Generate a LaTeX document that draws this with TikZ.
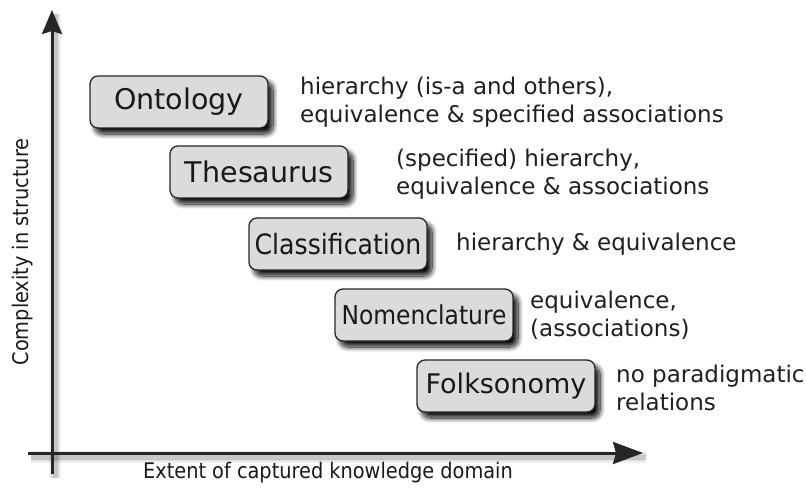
\documentclass[tikz,border=0pt]{standalone}
\usepackage{fontspec}
\setmainfont{DejaVu Sans}
\newfontfamily\condfont{DejaVu Sans Condensed}
\usetikzlibrary{arrows.meta,shadows.blur}

\tikzset{
  concept/.style={draw=black!85, line width=1.3pt, fill=black!14,
    rounded corners=8pt, minimum width=178pt, minimum height=52pt,
    inner sep=0pt, text=black!90,
    blur shadow={shadow xshift=5pt, shadow yshift=-6pt,
      shadow blur radius=5pt, shadow blur steps=12, shadow opacity=95}},
  desc/.style={anchor=west, align=left, inner sep=0pt, text=black!88,
    font=\fontsize{23}{28}\selectfont},
  axis/.style={line width=3pt, black!85},
  axislabel/.style={font=\condfont\fontsize{21.5}{24}\selectfont, text=black!90, inner sep=0pt},
}

\begin{document}
\begin{tikzpicture}[x=1pt, y=-1pt]
  \useasboundingbox (0,0) rectangle (806,489);

  % axis end points
  \coordinate (yb) at (52,474);
  \coordinate (yt) at (52,10);
  \coordinate (xl) at (28,453);
  \coordinate (xr) at (643,453);

  % soft halo under the axes
  \foreach \w/\o in {12/0.06, 8/0.08, 5/0.10}{
    \draw[line width=\w pt, black, opacity=\o] ([shift={(3,4)}]yb) -- ([shift={(3,4)}]yt);
    \draw[line width=\w pt, black, opacity=\o] ([shift={(3,4)}]xl) -- ([shift={(3,4)}]xr);
  }

  % axes
  \draw[axis, -{Stealth[length=24pt, width=20pt, inset=3pt]}] (yb) -- (yt);
  \draw[axis, -{Stealth[length=30pt, width=22pt, inset=3pt]}] (xl) -- (xr);

  \node[axislabel, rotate=90] (ylab) at (23,252) {Complexity in structure};
  \node[axislabel] (xlab) at (328,473) {Extent of captured knowledge domain};

  % concept boxes
  \node[concept, font=\fontsize{28.5}{30}\selectfont] (onto) at (179,102) {Ontology};
  \node[concept, font=\fontsize{28.5}{30}\selectfont] (thes) at (259,172) {Thesaurus};
  \node[concept, font=\condfont\fontsize{28}{30}\selectfont] (clas) at (338,244) {Classification};
  \node[concept, font=\condfont\fontsize{26}{30}\selectfont] (nome) at (424,315) {Nomenclature};
  \node[concept, font=\fontsize{27}{30}\selectfont] (folk) at (506,386) {Folksonomy};

  % relation descriptions
  \node[desc] (donto) at (300,102) {hierarchy (is-a and others),\\equivalence \& specified associations};
  \node[desc] (dthes) at (396,174) {(specified) hierarchy,\\equivalence \& associations};
  \node[desc] (dclas) at (456,244) {hierarchy \& equivalence};
  \node[desc] (dnome) at (530,315) {equivalence,\\(associations)};
  \node[desc] (dfolk) at (616,388) {no paradigmatic\\relations};
\end{tikzpicture}
\end{document}
